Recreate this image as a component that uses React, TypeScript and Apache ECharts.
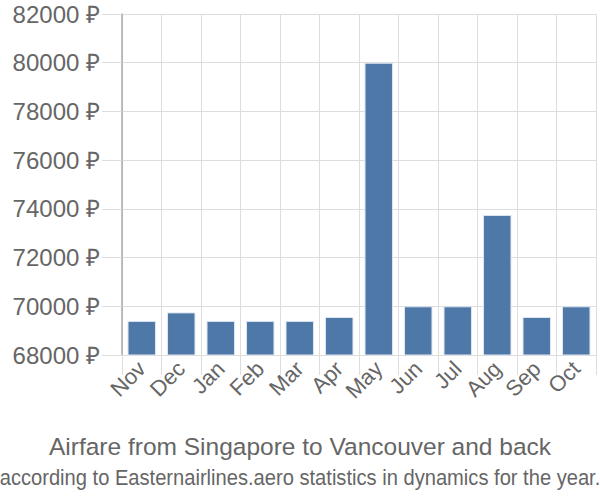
import React, { useEffect, useRef } from "react";
import * as echarts from "echarts";

const categories = ["Nov", "Dec", "Jan", "Feb", "Mar", "Apr", "May", "Jun", "Jul", "Aug", "Sep", "Oct"];
const prices = [69400, 69750, 69400, 69400, 69400, 69560, 80000, 70000, 70000, 73750, 69560, 70000];
const yMin = 68000;
const yMax = 82000;
const yStep = 2000;
const titleText = "Airfare from Singapore to Vancouver and back";
const subtitleText = "according to Easternairlines.aero statistics in dynamics for the year.";

export default function App() {
  const ref = useRef<HTMLDivElement>(null);
  useEffect(() => {
    const chart = echarts.init(ref.current!, null, { renderer: "svg" });
    chart.setOption({
      animation: false,
      grid: { left: 122, right: 4, top: 14, bottom: 145, containLabel: false },
      graphic: [
        {
          type: "text",
          x: 300,
          y: 446,
          style: {
            text: titleText,
            textAlign: "center",
            textVerticalAlign: "middle",
            fontFamily: "Liberation Sans, Arial, sans-serif",
            fontSize: 24.5,
            fill: "#666",
          },
        },
        {
          type: "text",
          x: 300,
          y: 477,
          scaleX: 0.915,
          style: {
            text: subtitleText,
            textAlign: "center",
            textVerticalAlign: "middle",
            fontFamily: "Liberation Sans, Arial, sans-serif",
            fontSize: 22,
            fill: "#666",
          },
        },
      ],
      xAxis: {
        type: "category",
        data: categories,
        axisLine: { lineStyle: { color: "#ddd" } },
        axisTick: { show: true, interval: 0, length: 20, alignWithLabel: false, lineStyle: { color: "#ddd" } },
        splitLine: { show: true, interval: 0, lineStyle: { color: "#ddd" } },
        axisLabel: {
          interval: 0,
          rotate: 45,
          margin: 10,
          fontFamily: "Liberation Sans, Arial, sans-serif",
          fontSize: 22,
          color: "#666",
        },
      },
      yAxis: {
        type: "value",
        min: yMin,
        max: yMax,
        interval: yStep,
        axisLine: { show: true, lineStyle: { color: "#aaa", width: 1.5 } },
        axisTick: { show: true, length: 20, lineStyle: { color: "#ddd" } },
        splitLine: { show: true, lineStyle: { color: "#ddd" } },
        axisLabel: {
          margin: 22,
          fontFamily: "Liberation Sans, Arial, sans-serif",
          fontSize: 24,
          color: "#666",
          formatter: (v: number) => `${v} ₽`,
        },
      },
      series: [
        {
          type: "bar",
          data: prices,
          barCategoryGap: "28%",
          itemStyle: { color: "#4e78a7", borderColor: "#dde6f0", borderWidth: 1 },
        },
      ],
    });
    return () => chart.dispose();
  }, []);
  return <div ref={ref} style={{ width: 600, height: 500, position: "absolute", left: 0, top: 0 }} />;
}
